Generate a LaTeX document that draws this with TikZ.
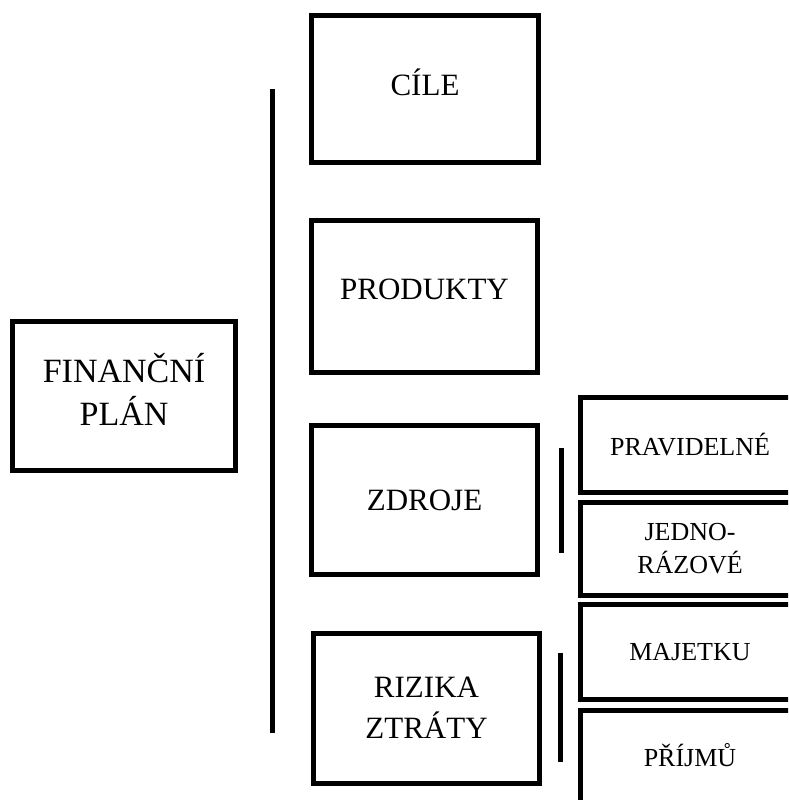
\documentclass[tikz,border=0pt]{standalone}
\usepackage{fontspec}
\setmainfont{Liberation Serif}
\begin{document}
\begin{tikzpicture}[x=1pt,y=-1pt,
  box/.style={draw,line width=5pt,rectangle,inner sep=0pt,align=center},
  bigtext/.style={font=\fontsize{31}{41}\selectfont},
  smalltext/.style={font=\fontsize{26}{33}\selectfont},
  bar/.style={line width=5pt}]
\useasboundingbox (0,0) rectangle (788,800);
\clip (0,0) rectangle (788,800);
% main boxes
\node[box,minimum width=223pt,minimum height=149pt,font=\fontsize{34}{43}\selectfont,text depth=14pt] (fin) at (124,396) {FINANČNÍ\\PLÁN};
\node[box,bigtext,minimum width=227pt,minimum height=147pt,text depth=14pt] (cile) at (425,89) {CÍLE};
\node[box,bigtext,minimum width=226pt,minimum height=152pt,text depth=14pt] (prod) at (424.5,296.5) {PRODUKTY};
\node[box,bigtext,minimum width=226pt,minimum height=149pt] (zdroj) at (424.5,500) {ZDROJE};
\node[box,bigtext,minimum width=226pt,minimum height=150pt] (riz) at (426.5,708) {RIZIKA\\ZTRÁTY};
% right boxes
\node[box,smalltext,minimum width=220pt,minimum height=95pt] (prav) at (690,445) {PRAVIDELNÉ};
\node[box,smalltext,minimum width=220pt,minimum height=93.5pt] (jedno) at (690,548.75) {JEDNO-\\RÁZOVÉ};
\node[box,smalltext,minimum width=220pt,minimum height=94.5pt] (maj) at (690,652) {MAJETKU};
\node[box,smalltext,minimum width=220pt,minimum height=94pt,text depth=6pt] (prij) at (690,757.5) {PŘÍJMŮ};
% vertical bars
\coordinate (mainTop) at (272,89);
\coordinate (mainBot) at (272,733);
\coordinate (zTop) at (561,448);
\coordinate (zBot) at (561,553);
\coordinate (rTop) at (560,653);
\coordinate (rBot) at (560,762);
\draw[bar] (mainTop) -- (mainBot);
\draw[bar] (zTop) -- (zBot);
\draw[bar] (rTop) -- (rBot);
\end{tikzpicture}
\end{document}
